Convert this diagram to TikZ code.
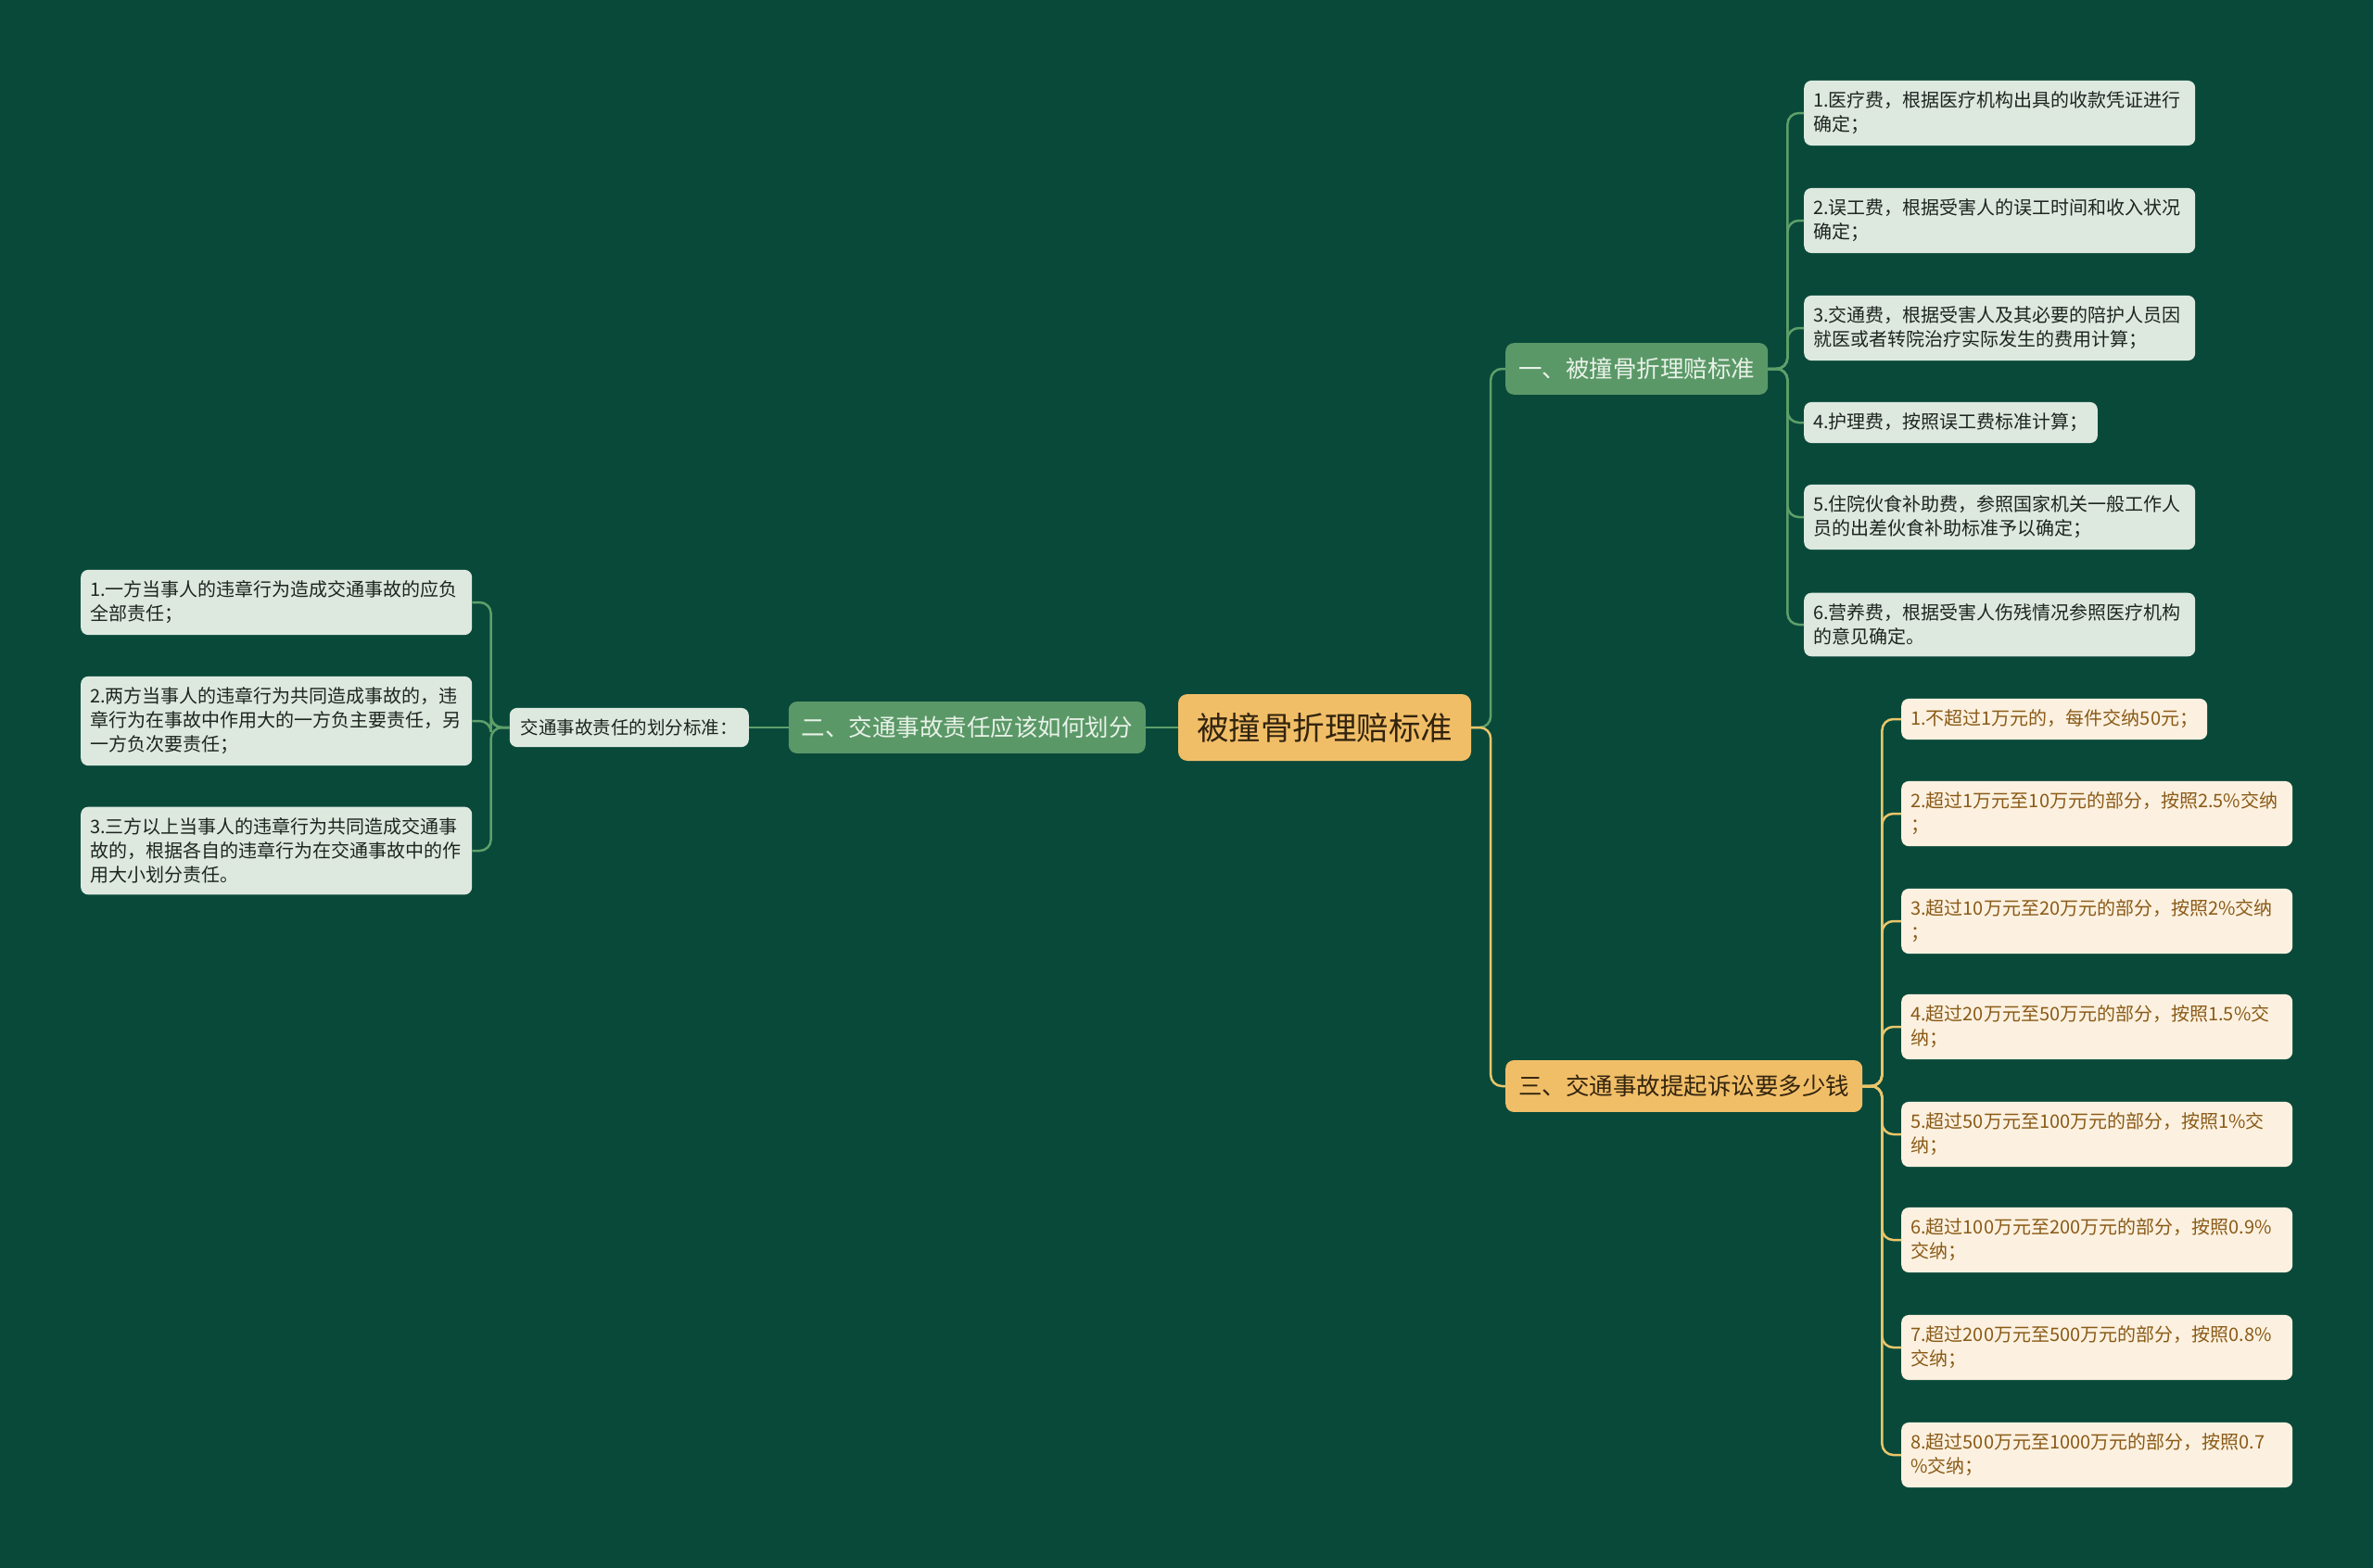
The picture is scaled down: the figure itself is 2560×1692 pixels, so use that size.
\documentclass[tikz,border=0pt]{standalone}
\usepackage{fontspec}
\setmainfont{Noto Sans CJK SC}
\definecolor{bgfill}{RGB}{9,73,58}
\definecolor{rootfill}{RGB}{241,190,104}
\definecolor{roottext}{RGB}{50,36,14}
\definecolor{greenfill}{RGB}{91,152,103}
\definecolor{greentext}{RGB}{232,242,232}
\definecolor{leaffill}{RGB}{221,233,223}
\definecolor{leaftext}{RGB}{30,36,32}
\definecolor{creamfill}{RGB}{252,241,224}
\definecolor{creamtext}{RGB}{138,90,23}
\definecolor{greenline}{RGB}{94,159,106}
\definecolor{goldline}{RGB}{233,198,107}
\tikzset{
    root-box/.style = {fill=rootfill, text=roottext, rectangle, rounded corners=10pt, inner xsep=20pt, inner ysep=20pt, font=\fontsize{34.5}{40}\selectfont},
    branch-box/.style = {fill=greenfill, text=greentext, rectangle, rounded corners=9pt, inner xsep=14pt, inner ysep=16pt, font=\fontsize{25.5}{30}\selectfont},
    branch-box-gold/.style = {branch-box, fill=rootfill, text=roottext},
    sub-box/.style = {fill=leaffill, text=leaftext, rectangle, rounded corners=8pt, inner xsep=12pt, inner ysep=12pt, font=\fontsize{19.5}{26}\selectfont},
    leaf-box/.style = {sub-box, inner xsep=10pt, inner ysep=12pt, align=left, font=\fontsize{20}{26}\selectfont},
    leaf-wide/.style = {leaf-box, text width=402pt},
    leaf-box-gold/.style = {leaf-box, fill=creamfill, text=creamtext},
    leaf-wide-gold/.style = {leaf-box-gold, text width=402pt},
    green-link/.style = {draw=greenline, line width=2.5pt, rounded corners=12pt},
    gold-link/.style = {draw=goldline, line width=2.5pt, rounded corners=12pt},
}
\begin{document}
\begin{tikzpicture}[x=1pt,y=-1pt]
\fill[bgfill] (0,0) rectangle (2560,1692);
\useasboundingbox (0,0) rectangle (2560,1692);

% centre and main branches
\node[root-box] (root) at (1429,785) {被撞骨折理赔标准};
\node[branch-box, anchor=west] (fees) at (1624,398) {一、被撞骨折理赔标准};
\node[branch-box, anchor=east] (duty) at (1236,785) {二、交通事故责任应该如何划分};
\node[branch-box-gold, anchor=west] (cost) at (1624,1172) {三、交通事故提起诉讼要多少钱};

% left side
\node[sub-box, anchor=east] (rule) at (808,785) {交通事故责任的划分标准：};
\node[leaf-wide, anchor=west] (duty1) at (87,650) {1.一方当事人的违章行为造成交通事故的应负\\全部责任；};
\node[leaf-wide, anchor=west] (duty2) at (87,778) {2.两方当事人的违章行为共同造成事故的，违\\章行为在事故中作用大的一方负主要责任，另\\一方负次要责任；};
\node[leaf-wide, anchor=west] (duty3) at (87,918) {3.三方以上当事人的违章行为共同造成交通事\\故的，根据各自的违章行为在交通事故中的作\\用大小划分责任。};

% compensation items
\node[leaf-wide, anchor=west] (fee1) at (1946,122) {1.医疗费，根据医疗机构出具的收款凭证进行\\确定；};
\node[leaf-wide, anchor=west] (fee2) at (1946,238) {2.误工费，根据受害人的误工时间和收入状况\\确定；};
\node[leaf-wide, anchor=west] (fee3) at (1946,354) {3.交通费，根据受害人及其必要的陪护人员因\\就医或者转院治疗实际发生的费用计算；};
\node[leaf-box, anchor=west] (fee4) at (1946,456) {4.护理费，按照误工费标准计算；};
\node[leaf-wide, anchor=west] (fee5) at (1946,558) {5.住院伙食补助费，参照国家机关一般工作人\\员的出差伙食补助标准予以确定；};
\node[leaf-wide, anchor=west] (fee6) at (1946,674) {6.营养费，根据受害人伤残情况参照医疗机构\\的意见确定。};

% litigation costs
\node[leaf-box-gold, anchor=west] (cost1) at (2051,776) {1.不超过1万元的，每件交纳50元；};
\node[leaf-wide-gold, anchor=west] (cost2) at (2051,878) {2.超过1万元至10万元的部分，按照2.5\%交纳\\；};
\node[leaf-wide-gold, anchor=west] (cost3) at (2051,994) {3.超过10万元至20万元的部分，按照2\%交纳\\；};
\node[leaf-wide-gold, anchor=west] (cost4) at (2051,1108) {4.超过20万元至50万元的部分，按照1.5\%交\\纳；};
\node[leaf-wide-gold, anchor=west] (cost5) at (2051,1224) {5.超过50万元至100万元的部分，按照1\%交\\纳；};
\node[leaf-wide-gold, anchor=west] (cost6) at (2051,1338) {6.超过100万元至200万元的部分，按照0.9\%\\交纳；};
\node[leaf-wide-gold, anchor=west] (cost7) at (2051,1454) {7.超过200万元至500万元的部分，按照0.8\%\\交纳；};
\node[leaf-wide-gold, anchor=west] (cost8) at (2051,1570) {8.超过500万元至1000万元的部分，按照0.7\\\%交纳；};

% links
\draw[green-link] (root.east) -- ++(21,0) |- (fees.west);
\draw[gold-link] (root.east) -- ++(21,0) |- (cost.west);
\draw[green-link] (root.west) -- (duty.east);
\draw[green-link] (duty.west) -- (rule.east);
\foreach \n in {duty1,duty2,duty3}
    \draw[green-link] (rule.west) -- ++(-20,0) |- (\n.east);
\foreach \n in {fee1,fee2,fee3,fee4,fee5,fee6}
    \draw[green-link] (fees.east) -- ++(21,0) |- (\n.west);
\foreach \n in {cost1,cost2,cost3,cost4,cost5,cost6,cost7,cost8}
    \draw[gold-link] (cost.east) -- ++(21,0) |- (\n.west);
\end{tikzpicture}
\end{document}
